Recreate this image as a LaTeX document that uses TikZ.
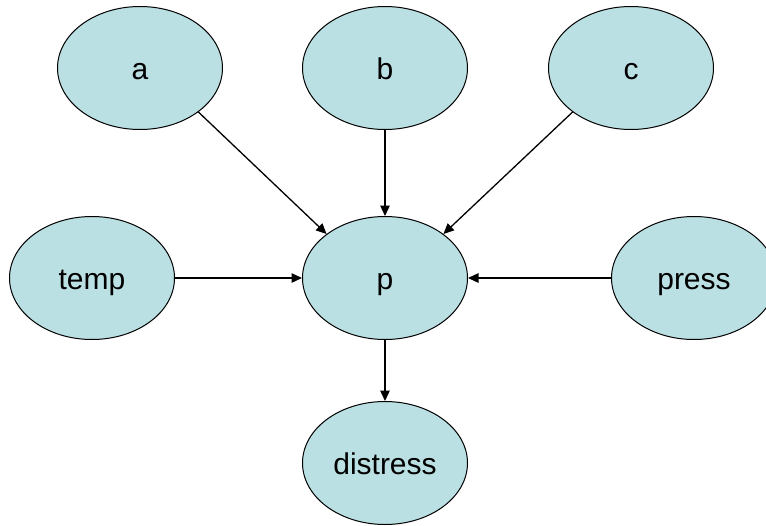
\documentclass[tikz,border=0pt]{standalone}
\usepackage{fontspec}
\setmainfont{Liberation Sans}
\usetikzlibrary{shapes.geometric,arrows.meta}
\definecolor{nodefill}{RGB}{187,224,227}
\begin{document}
\begin{tikzpicture}[x=1pt,y=1pt,
  var/.style={ellipse, draw=black, line width=1pt, fill=nodefill,
    minimum width=165pt, minimum height=123pt, inner sep=0pt,
    text height=22pt, text depth=0pt,
    font=\fontsize{30}{36}\selectfont},
  link/.style={line width=1.3pt, -{Triangle[length=10.5pt,width=9.5pt]}}]
\useasboundingbox (0,0) rectangle (766,-525);
\clip (0,0) rectangle (766,-525);
\node[var] (a) at (140,-68) {a};
\node[var] (b) at (385,-68) {b};
\node[var] (c) at (631,-68) {c};
\node[var] (temp) at (92,-278) {temp};
\node[var] (p) at (385,-278) {p};
\node[var] (press) at (694,-278) {press};
\node[var] (distress) at (385,-463) {distress};
\draw[link] (a.-37) -- (p.143);
\draw[link] (b.south) -- (p.north);
\draw[link] (c.-143) -- (p.37);
\draw[link] (temp.east) -- (p.west);
\draw[link] (press.west) -- (p.east);
\draw[link] (p.south) -- (distress.north);
\end{tikzpicture}
\end{document}
